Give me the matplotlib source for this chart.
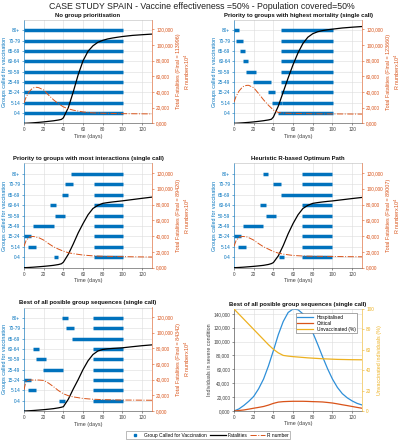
import matplotlib
matplotlib.use('Agg')
import matplotlib.pyplot as plt
from matplotlib.lines import Line2D
from matplotlib.ticker import FuncFormatter

plt.rcParams['font.family'] = ['Liberation Sans', 'DejaVu Sans']

# ---------------- data ----------------
groups = ['0-4', '5-14', '15-24', '25-49', '50-59', '60-64', '65-69', '70-79', '80+']

titles = ['No group prioritisation',
          'Priority to groups with highest mortality (single call)',
          'Priority to groups with most interactions (single call)',
          'Heuristic R-based Optimum Path',
          'Best of all posible group sequences (single call)']
finals = [113996, 123660, 89420, 89007, 84342]

# vaccination call segments: (group index, start day, end day)
calls_p1 = [(g, 0, 101) for g in range(9)]
calls_p2 = [(8, 0, 5), (7, 2, 9), (6, 6, 11), (5, 9, 14), (4, 12, 22), (3, 19, 38),
            (2, 35, 42), (1, 39, 49), (0, 45, 101),
            (8, 48, 101), (7, 48, 101), (6, 48, 101), (5, 48, 101), (4, 48, 101),
            (3, 48, 101), (2, 48, 101), (1, 49, 101)]
calls_p3 = [(8, 48, 101), (7, 42, 50), (6, 39, 45), (5, 26, 32), (4, 31, 42),
            (3, 9, 30), (2, 0, 7), (1, 4, 12), (0, 30, 35),
            (7, 71, 101), (6, 71, 101), (5, 71, 101), (4, 71, 101), (3, 71, 101),
            (2, 71, 101), (1, 71, 101), (0, 71, 101)]
calls_p4 = [(8, 29, 35), (7, 40, 48), (6, 48, 100), (5, 26, 32), (4, 32, 43),
            (3, 9, 29), (2, 0, 7), (1, 4, 12), (0, 46, 51),
            (8, 69, 100), (7, 69, 100), (5, 69, 100), (4, 69, 100), (3, 69, 100),
            (2, 69, 100), (1, 69, 100), (0, 69, 100)]
calls_p5 = [(8, 39, 45), (7, 43, 51), (6, 49, 101), (5, 9, 15), (4, 12, 22),
            (3, 19, 40), (2, 0, 7), (1, 4, 12), (0, 36, 42),
            (8, 70, 101), (7, 70, 101), (5, 70, 101), (4, 70, 101), (3, 70, 101),
            (2, 70, 101), (1, 70, 101), (0, 70, 101)]

fat_days = [0, 5, 10, 15, 20, 25, 30, 35, 38, 40, 45, 50, 55, 60, 65, 70, 75, 80,
            85, 90, 95, 100, 110, 120, 130]
fat_p1 = [0, 300, 700, 1200, 1800, 2500, 3200, 4200, 5000, 7000, 20000, 40000, 62000,
          80000, 92000, 99000, 103500, 106000, 107800, 109000, 110000, 110900, 112300,
          113200, 113996]
fat_p2 = [0, 300, 700, 1200, 1800, 2500, 3300, 4300, 5200, 8000, 22000, 40000, 58000,
          75000, 90000, 102000, 110000, 114500, 117000, 118500, 119500, 120300, 121800,
          122800, 123660]
fat_p3 = [0, 300, 700, 1200, 1700, 2300, 3000, 4000, 5000, 7000, 17000, 30000, 44000,
          56000, 67000, 75000, 79000, 81500, 82500, 83300, 84000, 84700, 86300, 87900,
          89420]
fat_p4 = [0, 300, 700, 1200, 1700, 2300, 3000, 4100, 5200, 6500, 15000, 28000, 43000,
          56000, 67000, 75000, 79000, 81500, 82500, 83300, 84000, 84600, 86100, 87600,
          89007]
fat_p5 = [0, 300, 700, 1200, 1700, 2300, 3000, 4000, 4800, 5500, 15000, 28000, 40000,
          53000, 64000, 72000, 76500, 78500, 79300, 79800, 80200, 80600, 82000, 83300,
          84342]

r_days = [0, 2, 5, 8, 10, 13, 15, 20, 25, 30, 35, 40, 45, 50, 60, 70, 80, 100, 130]
r_p1 = [2.6, 3.3, 4.0, 4.4, 4.55, 4.6, 4.55, 4.25, 3.6, 3.0, 2.5, 2.1, 1.85, 1.68,
        1.45, 1.33, 1.28, 1.23, 1.2]
r_p2 = [2.7, 3.4, 4.1, 4.55, 4.75, 4.85, 4.85, 4.55, 3.8, 3.0, 2.3, 1.7, 1.38, 1.3,
        1.26, 1.24, 1.22, 1.2, 1.18]
r_p3 = [2.7, 3.4, 3.85, 3.95, 3.95, 3.85, 3.8, 3.5, 3.05, 2.65, 2.35, 2.1, 1.9, 1.78,
        1.6, 1.5, 1.45, 1.4, 1.35]
r_p4 = [2.7, 3.4, 3.85, 3.95, 3.95, 3.9, 3.8, 3.5, 3.05, 2.65, 2.35, 2.05, 1.85, 1.72,
        1.55, 1.48, 1.45, 1.42, 1.38]
r_p5 = [2.7, 3.8, 3.95, 3.95, 3.95, 3.95, 3.95, 3.9, 3.55, 3.1, 2.6, 2.2, 1.95, 1.8,
        1.6, 1.5, 1.45, 1.4, 1.37]

sev_days = [0, 5, 10, 15, 20, 25, 30, 35, 40, 45, 50, 55, 60, 65, 70, 75, 80, 85, 90,
            95, 100, 105, 110, 115, 120, 125, 130]
hospitalised = [0, 3000, 8000, 14000, 21000, 32000, 46000, 65000, 87000, 110000, 129000,
                142000, 147000, 146000, 140000, 128000, 113000, 96000, 78000, 61000,
                46000, 34000, 25000, 19000, 14500, 11000, 8700]
critical = [0, 700, 1500, 2700, 4000, 5200, 6500, 8500, 11000, 12800, 13500, 13800,
            14000, 14000, 14000, 13800, 13500, 13300, 13000, 12300, 11500, 10300, 9000,
            7800, 6500, 5200, 4000]
unvaccinated = [100, 95, 90, 85, 80, 75, 70, 65, 60.5, 57, 54.5, 53.8, 53.3, 52.9, 52.5,
                52.1, 51.8, 51.5, 51.2, 51.0, 50.8, 50.6, 50.5, 50.4, 50.3, 50.25, 50.2]

# ---------------- style ----------------
BLUE = '#0072BD'
ORANGE = '#D95319'
YELLOW = '#EDB120'
GRID = '#dcdcdc'
DARK = '#404040'
TFS = 3.4
LFS = 3.9
W, H = 403, 440

def rect(l, r, t, b):
    return [l / W, 1 - b / H, (r - l) / W, (b - t) / H]

cols = [(24, 152), (234, 362)]
rows = [(20, 123.3), (163.5, 267.7), (307.5, 411)]

fig = plt.figure(figsize=(4.03, 4.40), dpi=100)
fig.text(0.5, 1 - 6.5 / H, 'CASE STUDY SPAIN - Vaccine effectiveness =50% - Population covered=50%',
         ha='center', va='center', fontsize=6.3, color='#202020')

def fmt_thousands(v, pos):
    if v == 0:
        return '0,000'
    return f'{v:,.0f}'

all_calls = [calls_p1, calls_p2, calls_p3, calls_p4, calls_p5]
all_fat = [fat_p1, fat_p2, fat_p3, fat_p4, fat_p5]
all_r = [r_p1, r_p2, r_p3, r_p4, r_p5]

for i in range(5):
    c, r = i % 2, i // 2
    ax = fig.add_axes(rect(cols[c][0], cols[c][1], rows[r][0], rows[r][1]))
    for g, s, e in all_calls[i]:
        ax.hlines(g + 1, s, e, color=BLUE, lw=2.5, zorder=3)
    ax.set_xlim(0, 130)
    ax.set_ylim(0, 10)
    ax.set_yticks(range(1, 10))
    ax.set_yticklabels(groups)
    ax.set_xticks(range(0, 121, 20))
    ax.grid(True, color=GRID, lw=0.4, zorder=0)
    ax.set_axisbelow(True)
    ax.tick_params(axis='y', colors=BLUE, labelsize=TFS, length=1.5, width=0.4, pad=1.2)
    ax.tick_params(axis='x', colors=DARK, labelsize=TFS, length=1.5, width=0.4, pad=1.5)
    ax.set_xlabel('Time (days)', fontsize=LFS, color=DARK, labelpad=1)
    ax.set_ylabel('Groups called for vaccination', fontsize=LFS, color=BLUE, labelpad=0.8)
    ax.set_title(titles[i], fontsize=4.3, fontweight='bold', color='#111111', pad=2.5)
    for sp in ax.spines.values():
        sp.set_linewidth(0.4)
    ax.spines['left'].set_color(BLUE)
    ax.spines['bottom'].set_color(DARK)
    ax.spines['top'].set_color('#bbbbbb')
    ax.spines['right'].set_visible(False)

    ax2 = ax.twinx()
    ax2.plot(fat_days, all_fat[i], color='black', lw=0.9, zorder=4)
    ax2.plot(r_days, [v * 1e4 for v in all_r[i]], color=ORANGE, lw=0.7, ls='-.', zorder=4)
    ax2.set_ylim(0, 132000)
    ax2.set_yticks(range(0, 120001, 20000))
    ax2.yaxis.set_major_formatter(FuncFormatter(fmt_thousands))
    ax2.tick_params(axis='y', colors=ORANGE, labelsize=TFS, length=1.5, width=0.4, pad=1.5)
    for sp in ax2.spines.values():
        sp.set_visible(False)
    ax2.spines['right'].set_visible(True)
    ax2.spines['right'].set_color(ORANGE)
    ax2.spines['right'].set_linewidth(0.4)
    ax2.set_ylabel(f'Total Fatalities (Final = {finals[i]})\nR numberx10$^4$',
                   fontsize=LFS, color=ORANGE, labelpad=2, linespacing=1.3)

# panel 6
ax = fig.add_axes(rect(cols[1][0], cols[1][1], rows[2][0] + 1.5, rows[2][1]))
lh, = ax.plot(sev_days, hospitalised, color='#2e8fd8', lw=0.9, label='Hospitalised')
lc, = ax.plot(sev_days, critical, color=ORANGE, lw=0.9, label='Critical')
ax.set_xlim(0, 130)
ax.set_ylim(0, max(hospitalised))
ax.set_yticks(range(0, 140001, 20000))
ax.yaxis.set_major_formatter(FuncFormatter(fmt_thousands))
ax.set_xticks(range(0, 121, 20))
ax.grid(True, color=GRID, lw=0.4)
ax.set_axisbelow(True)
ax.tick_params(axis='both', colors=DARK, labelsize=TFS, length=1.5, width=0.4, pad=1.2)
ax.set_xlabel('Time (days)', fontsize=LFS, color=DARK, labelpad=1)
ax.set_ylabel('Individuals in severe condition', fontsize=LFS, color=DARK, labelpad=0.8)
ax.set_title('Best of all posible group sequences (single call)', fontsize=4.3,
             fontweight='bold', color='#111111', pad=2.5)
for sp in ax.spines.values():
    sp.set_linewidth(0.4)
    sp.set_color(DARK)
ax.spines['top'].set_color('#bbbbbb')
ax.spines['right'].set_visible(False)
ax2 = ax.twinx()
lu, = ax2.plot(sev_days, unvaccinated, color=YELLOW, lw=0.9, label='Unvaccinated (%)')
ax2.set_ylim(0, 100)
ax2.set_yticks(range(0, 101, 20))
ax2.tick_params(axis='y', colors=YELLOW, labelsize=TFS, length=1.5, width=0.4, pad=1.5)
for sp in ax2.spines.values():
    sp.set_visible(False)
ax2.spines['right'].set_visible(True)
ax2.spines['right'].set_color(YELLOW)
ax2.spines['right'].set_linewidth(0.4)
ax2.set_ylabel('Unvaccinated individuals (%)', fontsize=LFS, color=YELLOW, labelpad=2)
leg6 = ax2.legend(handles=[lh, lc, lu], loc='upper right', fontsize=3.5, frameon=True,
                  fancybox=False, edgecolor='#666666', framealpha=1, borderpad=0.3,
                  handlelength=3.2, labelspacing=0.2, bbox_to_anchor=(0.98, 0.98))
leg6.get_frame().set_linewidth(0.4)

# bottom legend
handles = [Line2D([], [], color=BLUE, marker='s', ls='none', markersize=2),
           Line2D([], [], color='black', lw=0.9),
           Line2D([], [], color=ORANGE, lw=0.7, ls='-.')]
labels = ['Group Called for Vaccination', 'Fatalities', 'R number']
leg = fig.legend(handles, labels, loc='center', bbox_to_anchor=(208 / W, 1 - 435 / H),
                 ncol=3, fontsize=3.5, frameon=True, fancybox=False, edgecolor='#888888',
                 framealpha=1, borderpad=0.3, handlelength=3.2, columnspacing=0.6,
                 handletextpad=0.3)
leg.get_frame().set_linewidth(0.4)

fig.savefig('out.png', dpi=100)
